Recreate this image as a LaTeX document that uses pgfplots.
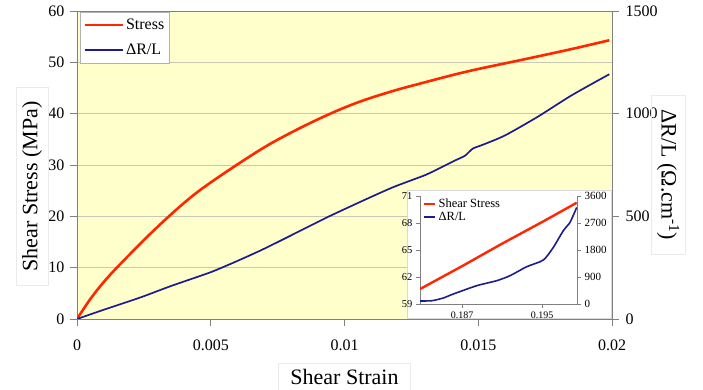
\documentclass[border=0pt]{standalone}
\usepackage{pgfplots}
\pgfplotsset{compat=1.18}
\usepackage{fontspec}
\setmainfont{Liberation Serif}
\definecolor{stressred}{RGB}{255,38,0}
\definecolor{drblue}{RGB}{28,28,140}
\definecolor{bgyellow}{RGB}{255,255,204}
\definecolor{axgray}{RGB}{128,128,128}
\definecolor{gridc}{RGB}{200,200,180}
\begin{document}
\begin{tikzpicture}
\useasboundingbox (0,0) rectangle (703pt,390pt);
\pgfplotsset{
  every axis/.append style={scale only axis,
    /pgf/number format/assume math mode=true,
    /pgf/number format/1000 sep={},
    tick align=outside, axis line style={axgray,line width=0.9pt},
    tick style={axgray,line width=0.8pt}},
}
% ---------------- main axis (stress)
\begin{axis}[at={(77pt,71pt)}, anchor=south west, width=535pt, height=308pt,
  xmin=0, xmax=0.02, ymin=0, ymax=60,
  xtick={0,0.005,0.01,0.015,0.02}, ytick={0,10,...,60},
  scaled x ticks=false,
  xticklabel style={/pgf/number format/fixed,/pgf/number format/precision=3,
     font=\fontsize{16}{16}\selectfont, yshift=-10pt},
  yticklabel style={font=\fontsize{16}{16}\selectfont, xshift=-2pt},
  xtick pos=bottom, ytick pos=left,
  major tick length=7pt,
  ymajorgrids, grid style={gridc, line width=0.8pt},
  axis background/.style={fill=bgyellow},
  xlabel={Shear Strain}, ylabel={Shear Stress (MPa)},
  xlabel style={at={(rel axis cs:0.5,-0.188)}, anchor=center,
     font=\fontsize{22}{22}\selectfont, draw=black!8, inner xsep=12pt, inner ysep=6pt},
  ylabel style={at={(rel axis cs:-0.084,0.43)}, anchor=center,
     font=\fontsize{22}{22}\selectfont, draw=black!8, inner xsep=14pt, inner ysep=6pt},
]
\fill[white, draw=black!15] (axis cs:0.01234,0.2) rectangle (axis cs:0.01997,25.1);
\addplot[stressred, line width=2.6pt, smooth, tension=0.6] table {
x y
0 0
0.0005 3.9
0.001 7.2
0.0016 10.6
0.0028 16.9
0.004 22.6
0.005 26.6
0.0068 32.8
0.008 36.3
0.0093 39.6
0.0105 42.2
0.0118 44.4
0.013 46.1
0.0141 47.6
0.015 48.7
0.016 49.8
0.017 50.9
0.0185 52.6
0.0199 54.3
};
\end{axis}
% ---------------- twin axis (dR/L)
\begin{axis}[at={(77pt,71pt)}, anchor=south west, width=535pt, height=308pt,
  xmin=0, xmax=0.02, ymin=0, ymax=1500,
  axis x line=none, axis y line*=right,
  ytick={0,500,1000,1500},
  major tick length=7pt,
  yticklabel style={font=\fontsize{16}{16}\selectfont, xshift=3pt},
  ylabel={ΔR/L (Ω.cm\textsuperscript{-1})},
  ylabel style={at={(rel axis cs:1.105,0.468)}, anchor=center, rotate=180,
     font=\fontsize{22}{22}\selectfont, draw=black!8, inner xsep=14pt, inner ysep=6pt},
  legend style={at={(rel axis cs:0.006,0.997)}, anchor=north west,
     draw=black!30, fill=white, font=\fontsize{16}{18}\selectfont,
     inner xsep=3pt, inner ysep=5pt, row sep=9pt},
  legend cell align=left,
  legend image code/.code={\draw[#1] (0pt,0pt) -- (38pt,0pt);},
]
\addlegendimage{stressred, line width=2.6pt}
\addlegendentry{Stress\hspace{14pt}}
\addplot[drblue, line width=1.7pt, smooth, tension=0.4] table {
x y
0 0
0.001 45
0.00235 104
0.0035 160
0.005 228
0.006 283
0.0068 330
0.0072 355
0.008 407
0.0093 492
0.0105 565
0.0118 641
0.013 700
0.0135 731
0.0141 770
0.0145 795
0.0148 830
0.0152 850
0.016 894
0.0172 983
0.0185 1090
0.0199 1192
};
\addlegendentry{ΔR/L}
\end{axis}
% ---------------- inset
\begin{axis}[at={(420pt,86pt)}, anchor=south west, width=157pt, height=108pt,
  xmin=0.1828, xmax=0.1985, ymin=59, ymax=71,
  ytick={59,62,65,68,71}, xtick={0.187,0.195},
  axis y line*=left, axis x line*=bottom,
  scaled x ticks=false, major tick length=4pt,
  xticklabel style={/pgf/number format/fixed,/pgf/number format/precision=3,
     font=\fontsize{10}{10}\selectfont},
  yticklabel style={font=\fontsize{10.5}{10.5}\selectfont},
]
\addplot[stressred, line width=2.4pt] table {
x y
0.1828 60.66
0.1870 63.2
0.1910 65.7
0.1950 68.1
0.19847 70.25
};
\end{axis}
\begin{axis}[at={(420pt,86pt)}, anchor=south west, width=157pt, height=108pt,
  xmin=0.1828, xmax=0.1985, ymin=0, ymax=3600,
  ytick={0,900,1800,2700,3600},
  axis x line=none, axis y line*=right, major tick length=4pt,
  yticklabel style={font=\fontsize{11}{11}\selectfont},
  legend style={at={(rel axis cs:0.013,1.0)}, anchor=north west,
     draw=none, fill=white, font=\fontsize{12.5}{13}\selectfont,
     inner xsep=1pt, inner ysep=1pt, row sep=-1pt},
  legend cell align=left,
  legend image code/.code={\draw[#1] (0pt,0pt) -- (11pt,0pt);},
]
\addlegendimage{stressred, line width=2.4pt}
\addlegendentry{Shear Stress}
\addplot[drblue, line width=1.6pt, smooth, tension=0.4] table {
x y
0.1828 100
0.1840 110
0.18513 200
0.18613 333
0.18847 610
0.19047 777
0.1918 943
0.19347 1243
0.19513 1465
0.19613 1887
0.19713 2443
0.1978 2720
0.19847 3220
};
\addlegendentry{ΔR/L}
\end{axis}
\end{tikzpicture}
\end{document}
